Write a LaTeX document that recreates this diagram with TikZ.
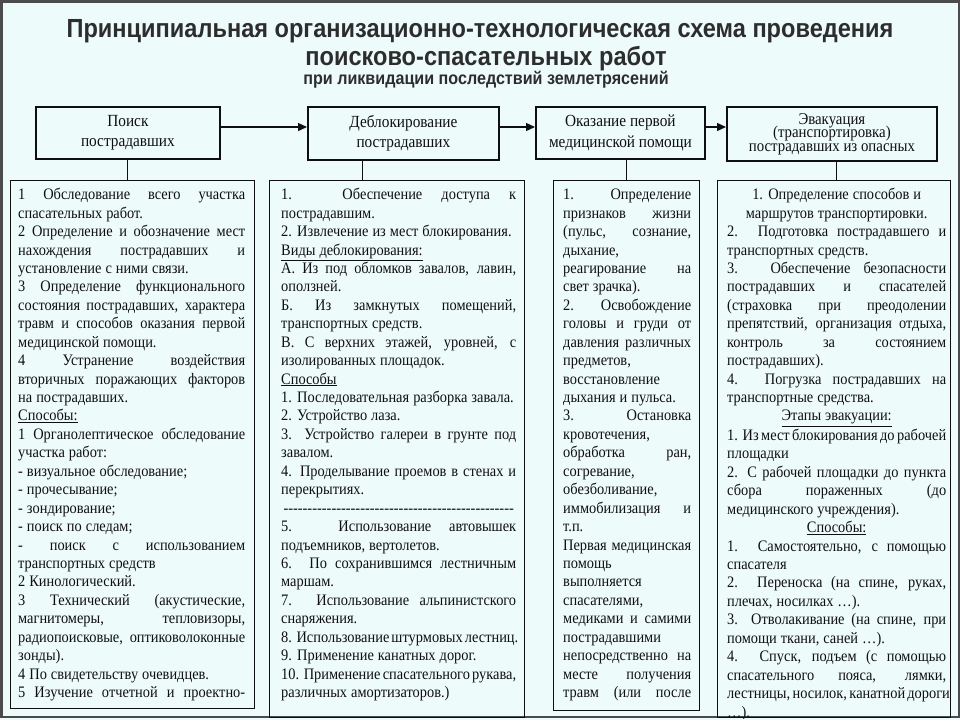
\documentclass[tikz,border=0pt]{standalone}
\usepackage{fontspec}
\newfontfamily\bodyfont{Liberation Serif}[FakeStretch=0.9]
\newfontfamily\titlefont{Liberation Sans}[FakeStretch=0.9]
\usetikzlibrary{arrows.meta}
\definecolor{bg}{RGB}{238,251,251}
\definecolor{framec}{RGB}{75,75,75}
\definecolor{titlec}{RGB}{45,45,45}
\definecolor{ink}{RGB}{15,15,15}
\newcommand\lineS{\vrule height 13pt depth 5.44pt width 0pt}
\newcommand\J[1]{\hbox to\hsize{\lineS#1}}
\newcommand\Lf[1]{\hbox to\hsize{\lineS#1\hfill}}
\newcommand\Cn[1]{\hbox to\hsize{\lineS\hfill#1\hfill}}
\newcommand\Dsh{\hbox to\hsize{\lineS\cleaders\hbox to 4.8pt{\hss-\hss}\hfill}}
\newcommand\Ul[1]{\underline{#1}}
\newcommand\setsp{\spaceskip=0.25em plus 1fil minus 0.12em\relax}
\newcommand\hl[1]{\hbox to 200pt{\hss#1\hss}}
\begin{document}
\begin{tikzpicture}[x=1pt,y=-1pt,
  hdr/.style={draw=ink, line width=1.8pt, anchor=north west, inner sep=0pt, align=center, text=ink,
    font=\bodyfont\fontsize{17}{20.5}\selectfont},
  cbox/.style={draw=ink, line width=1.2pt, anchor=north west, inner sep=0pt},
  ctext/.style={anchor=north west, inner sep=0pt, text=ink, font=\bodyfont\fontsize{16}{18.44}\selectfont},
  arr/.style={-{Triangle[length=9pt,width=8pt]}, line width=1.3pt, draw=ink},
  conn/.style={line width=0.8pt, draw=ink},
  ttl/.style={anchor=base, text=titlec, inner sep=0pt}]
\useasboundingbox (0,0) rectangle (960,720);
\fill[bg] (0,0) rectangle (960,720);
\draw[framec, line width=2.5pt] (1.25,1.25) rectangle (958.75,717);

% title
\node[ttl, font=\titlefont\bfseries\fontsize{26.2}{30}\selectfont] (t1) at (480,37) {Принципиальная организационно-технологическая схема проведения};
\node[ttl, font=\titlefont\bfseries\fontsize{26.2}{30}\selectfont] (t2) at (486,65) {поисково-спасательных работ};
\node[ttl, font=\titlefont\bfseries\fontsize{17.9}{20}\selectfont] (t3) at (486,84) {при ликвидации последствий землетрясений};

% header boxes
\node[hdr, minimum width=184pt, minimum height=52pt] (h1) at (35,106) {Поиск\\пострадавших};
\node[hdr, minimum width=191pt, minimum height=53pt] (h2) at (307,106) {Деблокирование\\пострадавших};
\node[hdr, minimum width=169pt, minimum height=52pt] (h3) at (535,106) {Оказание первой\\медицинской помощи};
\node[hdr, minimum width=210pt, minimum height=54pt, font=\bodyfont\fontsize{16.5}{13.5}\selectfont] (h4) at (726,106) {\vbox{\baselineskip=13.5pt\lineskiplimit=-20pt\relax
\hl{Эвакуация}\hl{(транспортировка)}\hl{пострадавших из опасных}}};

\coordinate (ay) at (0,127);
\draw[arr] (h1.east |- ay) -- (h2.west |- ay);
\draw[arr] (h2.east |- ay) -- (h3.west |- ay);
\draw[arr] (h3.east |- ay) -- (h4.west |- ay);

% content boxes
\node[cbox, minimum width=244pt, minimum height=528pt] (c1) at (10,180) {};
\node[cbox, minimum width=255pt, minimum height=537pt] (c2) at (269,180) {};
\node[cbox, minimum width=146pt, minimum height=530pt] (c3) at (553,180) {};
\node[cbox, minimum width=233pt, minimum height=537pt] (c4) at (717,180) {};

\coordinate (v1) at (127,0);
\coordinate (v2) at (362,0);
\coordinate (v3) at (626,0);
\coordinate (v4) at (836,0);
\draw[conn] (h1.south -| v1) -- (c1.north -| v1);
\draw[conn] (h2.south -| v2) -- (c2.north -| v2);
\draw[conn] (h3.south -| v3) -- (c3.north -| v3);
\draw[conn] (h4.south -| v4) -- (c4.north -| v4);

\begin{scope}
\clip (c1.north west) rectangle (c1.south east);
\node[ctext] (x1) at (18,186.5) {\vbox{\hsize=227pt\setsp
\J{1 Обследование всего участка}
\Lf{спасательных работ.}
\J{2 Определение и обозначение мест}
\J{нахождения пострадавших и}
\Lf{установление с ними связи.}
\J{3 Определение функционального}
\J{состояния пострадавших, характера}
\J{травм и способов оказания первой}
\Lf{медицинской помощи.}
\J{4 Устранение воздействия}
\J{вторичных поражающих факторов}
\Lf{на пострадавших.}
\Lf{\Ul{Способы:}}
\J{1 Органолептическое обследование}
\Lf{участка работ:}
\Lf{- визуальное обследование;}
\Lf{- прочесывание;}
\Lf{- зондирование;}
\Lf{- поиск по следам;}
\J{- поиск с использованием}
\Lf{транспортных средств}
\Lf{2 Кинологический.}
\J{3 Технический (акустические,}
\J{магнитомеры, тепловизоры,}
\J{радиопоисковые, оптиковолоконные}
\Lf{зонды).}
\Lf{4 По свидетельству очевидцев.}
\J{5 Изучение отчетной и проектно-}
}};
\end{scope}

\begin{scope}
\clip (c2.north west) rectangle (c2.south east);
\node[ctext] (x2) at (281,186.5) {\vbox{\hsize=235pt\setsp
\J{1. Обеспечение доступа к}
\Lf{пострадавшим.}
\Lf{2. Извлечение из мест блокирования.}
\Lf{\Ul{Виды деблокирования:}}
\J{А. Из под обломков завалов, лавин,}
\Lf{оползней.}
\J{Б. Из замкнутых помещений,}
\Lf{транспортных средств.}
\J{В. С верхних этажей, уровней, с}
\Lf{изолированных площадок.}
\Lf{\Ul{Способы}}
\Lf{1. Последовательная разборка завала.}
\Lf{2. Устройство лаза.}
\J{3. Устройство галереи в грунте под}
\Lf{завалом.}
\J{4. Проделывание проемов в стенах и}
\Lf{перекрытиях.}
\Dsh
\J{5. Использование автовышек}
\Lf{подъемников, вертолетов.}
\J{6. По сохранившимся лестничным}
\Lf{маршам.}
\J{7. Использование альпинистского}
\Lf{снаряжения.}
\Lf{8. Использование штурмовых лестниц.}
\Lf{9. Применение канатных дорог.}
\J{10. Применение спасательного рукава,}
\Lf{различных амортизаторов.)}
}};
\end{scope}

\begin{scope}
\clip (c3.north west) rectangle (c3.south east);
\node[ctext] (x3) at (563,186.5) {\vbox{\hsize=128pt\setsp
\J{1. Определение}
\J{признаков жизни}
\J{(пульс, сознание,}
\Lf{дыхание,}
\J{реагирование на}
\Lf{свет зрачка).}
\J{2. Освобождение}
\J{головы и груди от}
\J{давления различных}
\Lf{предметов,}
\Lf{восстановление}
\Lf{дыхания и пульса.}
\J{3. Остановка}
\Lf{кровотечения,}
\J{обработка ран,}
\Lf{согревание,}
\Lf{обезболивание,}
\J{иммобилизация и}
\Lf{т.п.}
\J{Первая медицинская}
\Lf{помощь}
\Lf{выполняется}
\Lf{спасателями,}
\J{медиками и самими}
\Lf{пострадавшими}
\J{непосредственно на}
\J{месте получения}
\J{травм (или после}
}};
\end{scope}

\begin{scope}
\clip (c4.north west) rectangle (c4.south east);
\node[ctext] (x4) at (727,186.5) {\vbox{\hsize=219pt\setsp
\Cn{1. Определение способов и}
\Cn{маршрутов транспортировки.}
\J{2. Подготовка пострадавшего и}
\Lf{транспортных средств.}
\J{3. Обеспечение безопасности}
\J{пострадавших и спасателей}
\J{(страховка при преодолении}
\J{препятствий, организация отдыха,}
\J{контроль за состоянием}
\Lf{пострадавших).}
\J{4. Погрузка пострадавших на}
\Lf{транспортные средства.}
\Cn{\Ul{Этапы эвакуации:}}
\J{1. Из мест блокирования до рабочей}
\Lf{площадки}
\J{2. С рабочей площадки до пункта}
\J{сбора пораженных (до}
\Lf{медицинского учреждения).}
\Cn{\Ul{Способы:}}
\J{1. Самостоятельно, с помощью}
\Lf{спасателя}
\J{2. Переноска (на спине, руках,}
\Lf{плечах, носилках …).}
\J{3. Отволакивание (на спине, при}
\Lf{помощи ткани, саней …).}
\J{4. Спуск, подъем (с помощью}
\J{спасательного пояса, лямки,}
\J{лестницы, носилок, канатной дороги}
\Lf{…).}
}};
\end{scope}
\end{tikzpicture}
\end{document}
